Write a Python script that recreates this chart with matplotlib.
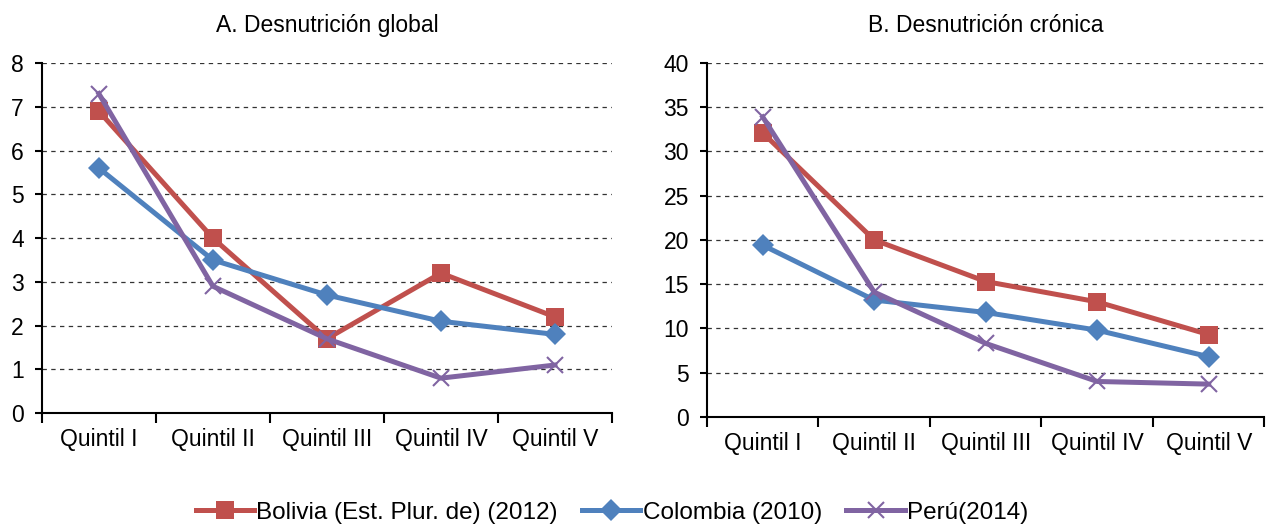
import numpy as np
import matplotlib.pyplot as plt
from matplotlib.lines import Line2D

plt.rcParams['font.family'] = ['Liberation Sans', 'DejaVu Sans']

# data
quintiles = ['Quintil I', 'Quintil II', 'Quintil III', 'Quintil IV', 'Quintil V']
series_names = ['Bolivia (Est. Plur. de) (2012)', 'Colombia (2010)', 'Perú(2014)']

bolivia_a = [6.9, 4.0, 1.7, 3.2, 2.2]
colombia_a = [5.6, 3.5, 2.7, 2.1, 1.8]
peru_a = [7.3, 2.9, 1.7, 0.8, 1.1]

bolivia_b = [32.1, 20.0, 15.3, 13.0, 9.3]
colombia_b = [19.4, 13.2, 11.8, 9.8, 6.8]
peru_b = [33.9, 14.1, 8.3, 4.0, 3.7]

colors = ['#C0504D', '#4F81BD', '#8064A2']
markers = ['s', 'D', 'x']
msizes = [12.5, 11, 12]

fig = plt.figure(figsize=(12.67, 5.25), dpi=100)
ax1 = fig.add_axes([0.033, 0.213, 0.450, 0.667])
ax2 = fig.add_axes([0.558, 0.206, 0.440, 0.674])

def draw(ax, data, ymax, step, title):
    x = np.arange(len(quintiles))
    for vals, c, m, ms in zip(data, colors, markers, msizes):
        ax.plot(x, vals, color=c, lw=3.6, marker=m, ms=ms, mew=1.5 if m == 'x' else 0,
                mec=c, mfc=c, zorder=3)
    ax.set_xlim(-0.5, len(quintiles) - 0.5)
    ax.set_ylim(0, ymax)
    ax.set_yticks(np.arange(0, ymax + step, step))
    ax.set_xticks(np.arange(-0.5, len(quintiles), 1.0))
    ax.set_xticklabels([])
    ax.set_xticks(x, minor=True)
    ax.set_xticklabels(quintiles, minor=True)
    ax.tick_params(axis='x', which='minor', length=0, pad=11, labelsize=16.5)
    ax.tick_params(axis='x', which='major', length=7, width=1.5, direction='out')
    ax.tick_params(axis='y', length=5, width=1.5, direction='out', labelsize=16.5, pad=8)
    ax.yaxis.grid(True, ls=(0, (3.5, 3.5)), color='#333333', lw=0.9)
    ax.set_axisbelow(True)
    for s in ['top', 'right']:
        ax.spines[s].set_visible(False)
    for s in ['left', 'bottom']:
        ax.spines[s].set_linewidth(1.5)
    ax.set_title(title, fontsize=16.5, pad=22)

draw(ax1, [bolivia_a, colombia_a, peru_a], 8, 1, 'A. Desnutrición global')
draw(ax2, [bolivia_b, colombia_b, peru_b], 40, 5, 'B. Desnutrición crónica')

handles = [Line2D([], [], color=c, lw=3.6, marker=m, ms=ms, mec=c, mfc=c,
                  mew=1.5 if m == 'x' else 0)
           for c, m, ms in zip(colors, markers, msizes)]
fig.legend(handles, series_names, loc='center', bbox_to_anchor=(0.483, 0.023), ncol=3,
           frameon=False, fontsize=17.5, handlelength=2.4, handletextpad=0.1, columnspacing=1.0)

fig.savefig('out.png', dpi=100)
